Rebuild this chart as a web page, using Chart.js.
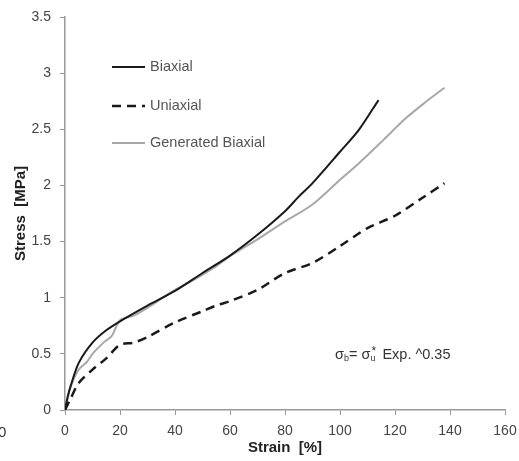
<!DOCTYPE html>
<html>
<head>
<meta charset="utf-8">
<script src="https://cdn.jsdelivr.net/npm/chart.js@4.4.0/dist/chart.umd.min.js"></script>
<style>
  html, body { margin: 0; padding: 0; background: #fff; }
  #wrap { width: 519px; height: 461px; }
</style>
</head>
<body>
<div id="wrap"><canvas id="chart" width="519" height="461"></canvas></div>
<script>
// strain values [%] and stress [MPa]
const biaxialX = [0, 1, 2, 5, 10, 15, 20, 30, 40, 50, 60, 70, 80, 85, 90, 100, 107, 114];
const biaxialY = [0, 0.12, 0.21, 0.42, 0.6, 0.71, 0.79, 0.93, 1.06, 1.22, 1.375, 1.56, 1.77, 1.9, 2.02, 2.3, 2.5, 2.76];

const uniaxialX = [0, 2, 5, 10, 15, 20, 25, 30, 40, 50, 55, 60, 70, 80, 90, 100, 110, 120, 130, 138];
const uniaxialY = [0, 0.1, 0.24, 0.36, 0.46, 0.58, 0.6, 0.65, 0.78, 0.88, 0.93, 0.97, 1.07, 1.22, 1.31, 1.46, 1.62, 1.73, 1.89, 2.02];

const generatedX = [0, 2, 5, 8, 10, 14, 17, 20, 25, 30, 40, 47, 55, 60, 70, 80, 90, 100, 107, 116, 124, 131, 138];
const generatedY = [0, 0.2, 0.36, 0.43, 0.5, 0.6, 0.66, 0.8, 0.84, 0.91, 1.07, 1.16, 1.28, 1.37, 1.52, 1.68, 1.83, 2.05, 2.2, 2.41, 2.6, 2.74, 2.87];

const xTicks = [0, 20, 40, 60, 80, 100, 120, 140, 160];
const yTicks = [0, 0.5, 1, 1.5, 2, 2.5, 3, 3.5];

const FONT = '"Liberation Sans", Arial, sans-serif';

function toPoints(xs, ys) {
    return xs.map((x, i) => ({ x: x, y: ys[i] }));
}

// legend + formula + stray label drawn on the canvas
const extras = {
    id: 'extras',
    afterDraw(chart) {
        const ctx = chart.ctx;
        ctx.save();
        ctx.font = '14.5px ' + FONT;
        ctx.fillStyle = '#555';
        ctx.textBaseline = 'middle';
        const rows = [67, 106, 143];
        chart.data.datasets.forEach((ds, i) => {
            const y = rows[i];
            ctx.strokeStyle = ds.borderColor;
            ctx.lineWidth = ds.borderWidth;
            ctx.setLineDash(ds.borderDash || []);
            ctx.beginPath();
            ctx.moveTo(112, y);
            ctx.lineTo(145, y);
            ctx.stroke();
            ctx.setLineDash([]);
            ctx.fillText(ds.label, 150, y);
        });

        // sigma_b = sigma_u * Exp. ^0.35
        let x = 335, y = 355;
        ctx.fillStyle = '#333';
        ctx.font = '14.5px ' + FONT;
        ctx.fillText('\u03c3', x, y); x += ctx.measureText('\u03c3').width;
        ctx.font = '9px ' + FONT;
        ctx.fillText('b', x, y + 4); x += ctx.measureText('b').width;
        ctx.font = '14.5px ' + FONT;
        ctx.fillText('= \u03c3', x, y); x += ctx.measureText('= \u03c3').width;
        ctx.font = '9px ' + FONT;
        ctx.fillText('u', x, y + 4);
        ctx.font = '12px ' + FONT;
        ctx.fillText('*', x + 1, y - 3); x += 8;
        ctx.font = '14.5px ' + FONT;
        ctx.fillText(' Exp. ^0.35', x, y);

        ctx.font = '15px ' + FONT;
        ctx.fillStyle = '#333';
        ctx.fillText('0', -2, 433);
        ctx.restore();
    }
};

new Chart(document.getElementById('chart'), {
    type: 'scatter',
    data: {
        datasets: [
            {
                label: 'Biaxial',
                data: toPoints(biaxialX, biaxialY),
                showLine: true,
                borderColor: '#1a1a1a',
                borderWidth: 2,
                pointRadius: 0,
                tension: 0.3
            },
            {
                label: 'Uniaxial',
                data: toPoints(uniaxialX, uniaxialY),
                showLine: true,
                borderColor: '#1a1a1a',
                borderWidth: 2.5,
                borderDash: [9, 6],
                pointRadius: 0,
                tension: 0.3
            },
            {
                label: 'Generated Biaxial',
                data: toPoints(generatedX, generatedY),
                showLine: true,
                borderColor: '#a8a8a8',
                borderWidth: 2,
                pointRadius: 0,
                tension: 0.3
            }
        ]
    },
    options: {
        responsive: false,
        animation: false,
        layout: { padding: { top: 17, right: 0, left: 0, bottom: 0 } },
        plugins: {
            legend: { display: false },
            tooltip: { enabled: false }
        },
        scales: {
            x: {
                type: 'linear',
                min: 0,
                max: 160,
                afterBuildTicks: (s) => { s.ticks = xTicks.map(v => ({ value: v })); },
                afterFit: (s) => { s.height = 51; s.paddingLeft = 0; s.paddingRight = 14; },
                border: { color: '#999', width: 1.5 },
                grid: { display: true, drawOnChartArea: false, tickLength: 5, color: '#999' },
                ticks: { color: '#444', font: { family: FONT, size: 14 }, padding: 8, maxRotation: 0 },
                title: { display: true, text: 'Strain  [%]', color: '#222', font: { family: FONT, size: 15, weight: 'bold' }, padding: { top: 0 } }
            },
            y: {
                min: 0,
                max: 3.5,
                afterBuildTicks: (s) => { s.ticks = yTicks.map(v => ({ value: v })); },
                afterFit: (s) => { s.width = 65; s.paddingTop = 0; s.paddingBottom = 0; },
                border: { color: '#999', width: 1.5 },
                grid: { display: true, drawOnChartArea: false, tickLength: 5, color: '#999' },
                ticks: { color: '#444', font: { family: FONT, size: 14 }, padding: 9, callback: (v) => String(v) },
                title: { display: true, text: 'Stress  [MPa]', color: '#222', font: { family: FONT, size: 15, weight: 'bold' }, padding: { top: 12, bottom: 0 } }
            }
        }
    },
    plugins: [extras]
});
</script>
</body>
</html>
